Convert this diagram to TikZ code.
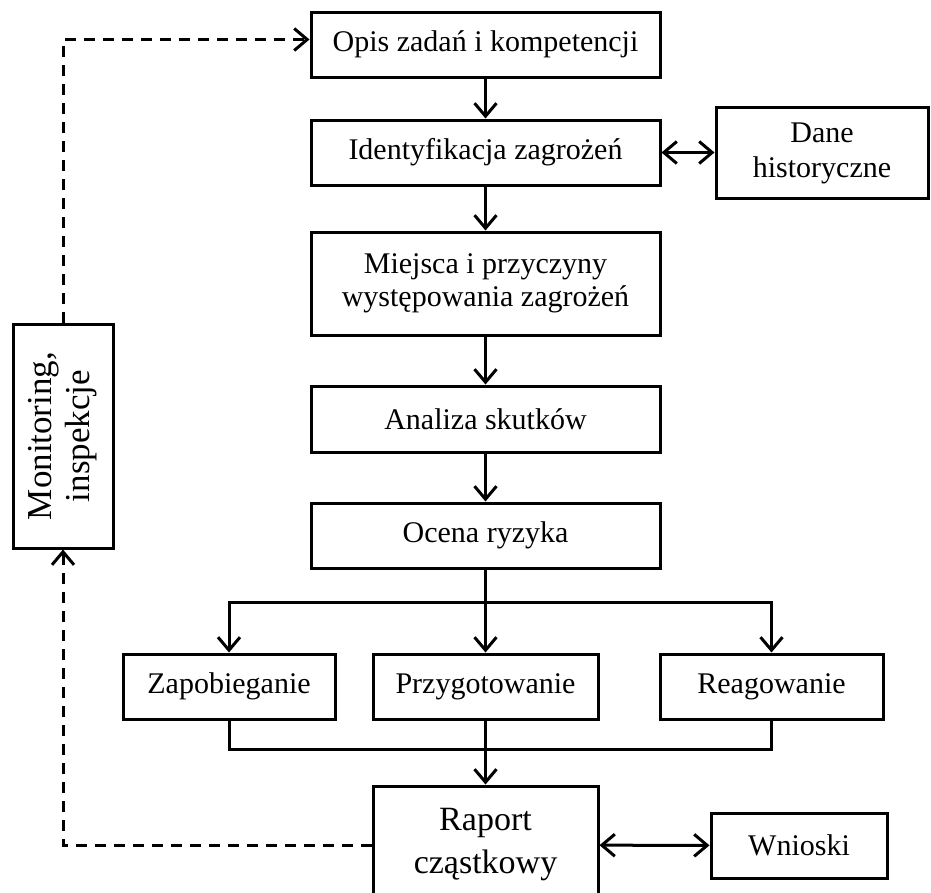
\documentclass[tikz,border=0pt]{standalone}
\usepackage{fontspec}
\setmainfont{Liberation Serif}
\usepackage{graphicx}
\usetikzlibrary{arrows.meta}

\tikzset{
  tip/.tip={Straight Barb[length=13pt,width=22pt,line width=3pt]},
  box/.style={draw, line width=3pt, rectangle, inner sep=0pt, align=center,
              font=\fontsize{30}{33}\selectfont},
  flow/.style={line width=3pt, -tip},
  both/.style={line width=3pt, tip-tip},
  plain/.style={line width=3pt},
  loop/.style={line width=3pt, dash pattern=on 11pt off 8pt},
  looparrow/.style={loop, -tip}
}

\begin{document}
\begin{tikzpicture}[x=1pt, y=-1pt]
  \useasboundingbox (0,0) rectangle (931,892);

  % main process column
  \node[box, minimum width=349pt, minimum height=65pt]  (opis)    at (485.5,44.5)  {Opis zadań i kompetencji};
  \node[box, minimum width=349pt, minimum height=65pt]  (ident)   at (485.5,152.5) {Identyfikacja zagrożeń};
  \node[box, minimum width=212pt, minimum height=91pt, font=\fontsize{30}{35}\selectfont]
                                                         (dane)    at (822,152.5)   {\raisebox{-3pt}{\begin{tabular}{@{}c@{}}Dane\\historyczne\end{tabular}}};
  \node[box, minimum width=349pt, minimum height=103pt] (miejsca) at (485.5,283.5) {Miejsca i przyczyny\\występowania zagrożeń};
  \node[box, minimum width=349pt, minimum height=66pt]  (analiza) at (485.5,419)   {Analiza skutków};
  \node[box, minimum width=349pt, minimum height=65pt]  (ocena)   at (485.5,535.5) {Ocena ryzyka};

  % three kinds of action
  \node[box, minimum width=212pt, minimum height=65pt]  (zapob)   at (229,686.5)   {Zapobieganie};
  \node[box, minimum width=225pt, minimum height=65pt]  (przyg)   at (485.5,686.5) {Przygotowanie};
  \node[box, minimum width=223pt, minimum height=65pt]  (reag)    at (771.5,686.5) {Reagowanie};

  % reporting
  \node[box, minimum width=225pt, minimum height=118pt, font=\fontsize{34}{43}\selectfont]
                                                         (raport)  at (485.5,845)   {Raport\\cząstkowy};
  \node[box, minimum width=176pt, minimum height=65pt]  (wnioski) at (799,845.5)   {Wnioski};

  % feedback loop
  \node[box, minimum width=100pt, minimum height=224pt, font=\fontsize{35}{38}\selectfont]
        (monitor) at (63,436)
        {\rotatebox{90}{\begin{tabular}{@{}c@{}}Monitoring,\\inspekcje\end{tabular}}};

  \coordinate (split) at (485.5,602);
  \coordinate (join)  at (485.5,749);

  % connectors
  \draw[flow] (opis) -- (ident);
  \draw[both] (ident) -- (dane);
  \draw[flow] (ident) -- (miejsca);
  \draw[flow] (miejsca) -- (analiza);
  \draw[flow] (analiza) -- (ocena);

  \draw[plain] (ocena) -- (split);
  \draw[flow]  (split) -| (zapob);
  \draw[flow]  (split) -- (przyg);
  \draw[flow]  (split) -| (reag);

  \draw[plain] (zapob) |- (join) -| (reag);
  \draw[plain] (przyg) -- (join);
  \draw[flow]  (join) -- (raport);

  \draw[both] (raport) -- (wnioski);

  \draw[looparrow] (raport.west) -| (monitor.south);
  \draw[looparrow] (monitor.north) |- ([yshift=5pt]opis.west);
\end{tikzpicture}
\end{document}
